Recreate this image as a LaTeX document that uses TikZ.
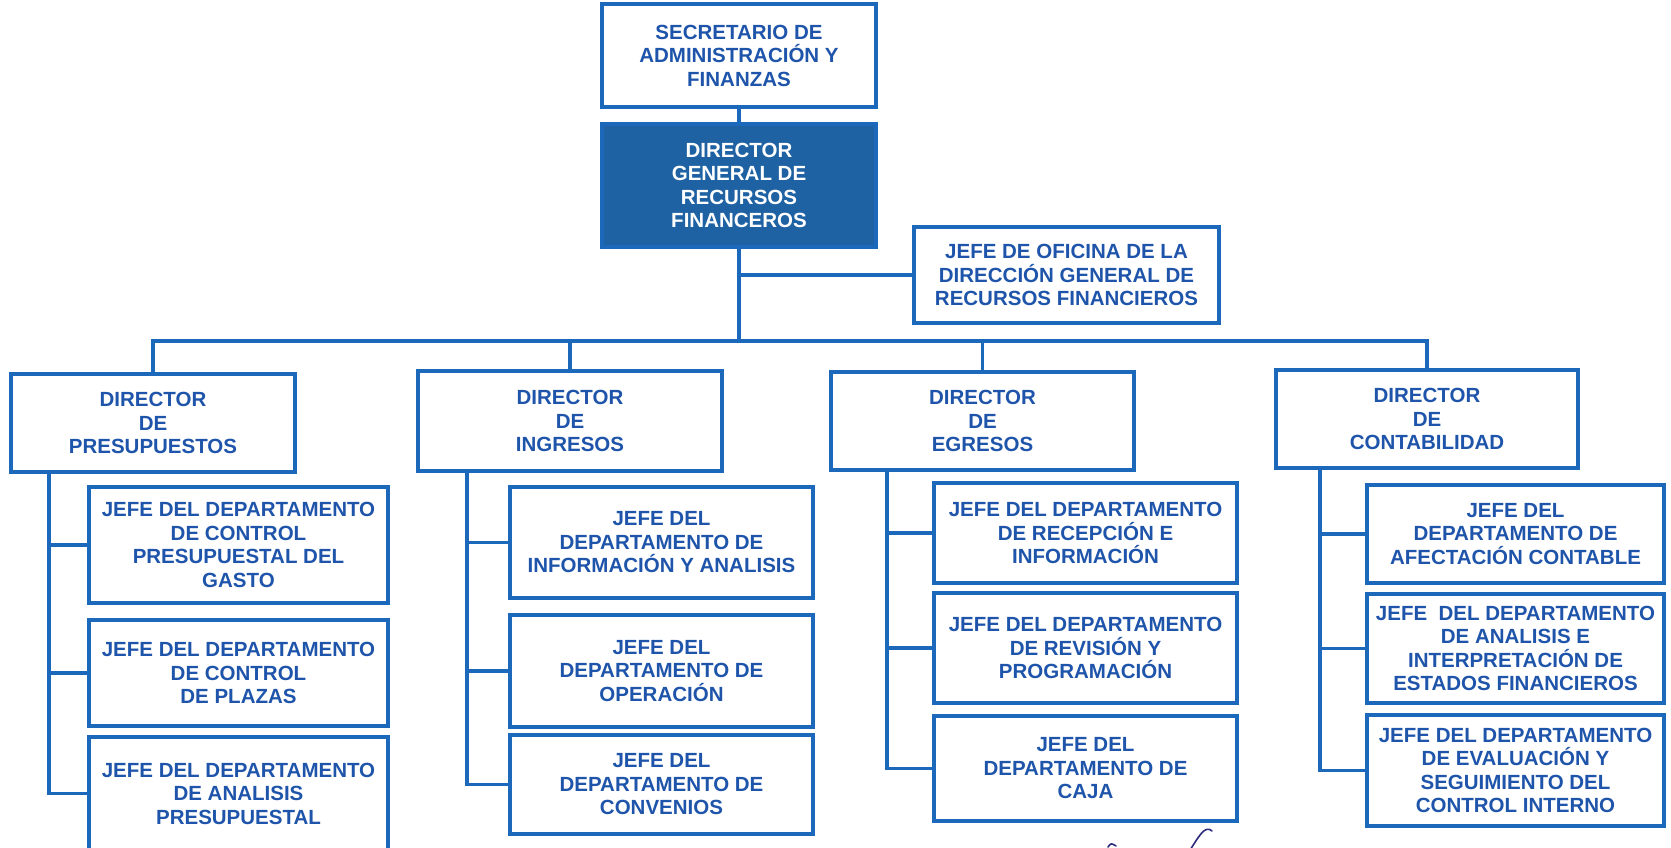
\documentclass[tikz,border=0pt]{standalone}
\usepackage{fontspec}
\setmainfont{Liberation Sans}
\definecolor{azulLinea}{RGB}{28,104,186}
\definecolor{azulTexto}{RGB}{30,84,170}
\definecolor{azulFondo}{RGB}{30,98,163}
\definecolor{firma}{RGB}{45,45,125}
\begin{document}
\begin{tikzpicture}[x=1pt,y=1pt,yscale=-1,xscale=1,
  caja/.style={draw=azulLinea,line width=3.2pt,inner sep=0pt,align=center,text=azulTexto,font=\fontsize{20.5}{23.5}\selectfont\bfseries},
  conector/.style={draw=azulLinea,line width=3.2pt}]
\useasboundingbox (0,0) rectangle (1671,848);

% cabeza
\node[caja,minimum width=274pt,minimum height=103pt] (sec) at (739,55.5) {SECRETARIO DE\\ADMINISTRACIÓN Y\\FINANZAS};
\node[caja,fill=azulFondo,text=white,minimum width=274pt,minimum height=123pt] (dg) at (739,185.5) {DIRECTOR\\GENERAL DE\\RECURSOS\\FINANCEROS};
\node[caja,minimum width=305pt,minimum height=96pt] (ofi) at (1066.5,275) {JEFE DE OFICINA DE LA\\DIRECCIÓN GENERAL DE\\RECURSOS FINANCIEROS};
\coordinate (bus) at (739,341);

% directores
\node[caja,minimum width=284pt,minimum height=98pt] (dP) at (153,423) {DIRECTOR\\DE\\PRESUPUESTOS};
\node[caja,minimum width=304pt,minimum height=100pt] (dI) at (570,421) {DIRECTOR\\DE\\INGRESOS};
\node[caja,minimum width=303pt,minimum height=98pt] (dE) at (982.5,421) {DIRECTOR\\DE\\EGRESOS};
\node[caja,minimum width=302pt,minimum height=98pt] (dC) at (1427,419) {DIRECTOR\\DE\\CONTABILIDAD};

% jefes de departamento
\node[caja,minimum width=299pt,minimum height=116pt] (p1) at (238.5,545) {JEFE DEL DEPARTAMENTO\\DE CONTROL\\PRESUPUESTAL DEL\\GASTO};
\node[caja,minimum width=299pt,minimum height=106pt] (p2) at (238.5,673) {JEFE DEL DEPARTAMENTO\\DE CONTROL\\DE PLAZAS};
\node[caja,minimum width=299pt,minimum height=113pt] (p3) at (238.5,793.5) {JEFE DEL DEPARTAMENTO\\DE ANALISIS\\PRESUPUESTAL};

\node[caja,minimum width=303pt,minimum height=111pt] (i1) at (661.5,542.5) {JEFE DEL\\DEPARTAMENTO DE\\INFORMACIÓN Y ANALISIS};
\node[caja,minimum width=303pt,minimum height=112pt] (i2) at (661.5,671) {JEFE DEL\\DEPARTAMENTO DE\\OPERACIÓN};
\node[caja,minimum width=303pt,minimum height=99pt] (i3) at (661.5,784.5) {JEFE DEL\\DEPARTAMENTO DE\\CONVENIOS};

\node[caja,minimum width=303pt,minimum height=100pt] (e1) at (1085.5,533) {JEFE DEL DEPARTAMENTO\\DE RECEPCIÓN E\\INFORMACIÓN};
\node[caja,minimum width=303pt,minimum height=110pt] (e2) at (1085.5,648) {JEFE DEL DEPARTAMENTO\\DE REVISIÓN Y\\PROGRAMACIÓN};
\node[caja,minimum width=303pt,minimum height=105pt] (e3) at (1085.5,768.5) {JEFE DEL\\DEPARTAMENTO DE\\CAJA};

\node[caja,minimum width=297pt,minimum height=98pt] (c1) at (1515.5,534) {JEFE DEL\\DEPARTAMENTO DE\\AFECTACIÓN CONTABLE};
\node[caja,minimum width=297pt,minimum height=109pt] (c2) at (1515.5,648.5) {JEFE~~DEL DEPARTAMENTO\\DE ANALISIS E\\INTERPRETACIÓN DE\\ESTADOS FINANCIEROS};
\node[caja,minimum width=297pt,minimum height=111pt] (c3) at (1515.5,770.5) {JEFE DEL DEPARTAMENTO\\DE EVALUACIÓN Y\\SEGUIMIENTO DEL\\CONTROL INTERNO};

% lineas
\draw[conector] (sec) -- (dg);
\draw[conector] (dg.south) -- (bus);
\draw[conector] (ofi.west) -- (ofi.west -| dg.south);
\draw[conector] (dP.north) |- (bus) -| (dC.north);
\draw[conector] (dI.north) -- (dI.north |- bus);
\draw[conector] (dE.north) -- (dE.north |- bus);

\coordinate (tP) at (49,0);
\coordinate (tI) at (467,0);
\coordinate (tE) at (887,0);
\coordinate (tC) at (1320,0);
\draw[conector] (dP.south -| tP) |- (p3.west);
\draw[conector] (p1.west) -- (p1.west -| tP);
\draw[conector] (p2.west) -- (p2.west -| tP);
\draw[conector] (dI.south -| tI) |- (i3.west);
\draw[conector] (i1.west) -- (i1.west -| tI);
\draw[conector] (i2.west) -- (i2.west -| tI);
\draw[conector] (dE.south -| tE) |- (e3.west);
\draw[conector] (e1.west) -- (e1.west -| tE);
\draw[conector] (e2.west) -- (e2.west -| tE);
\draw[conector] (dC.south -| tC) |- (c3.west);
\draw[conector] (c1.west) -- (c1.west -| tC);
\draw[conector] (c2.west) -- (c2.west -| tC);

% rubrica
\draw[firma,line width=1.6pt,line cap=round] (1108,847) .. controls (1111,843) .. (1116,846);
\draw[firma,line width=1.6pt,line cap=round] (1190,850) .. controls (1198,838) and (1205,824) .. (1212,831);
\end{tikzpicture}
\end{document}
